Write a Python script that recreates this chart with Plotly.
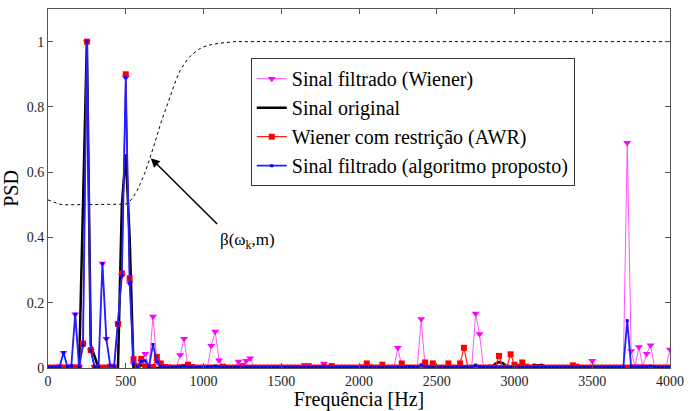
import plotly.graph_objects as go

# Frequency bins (Hz), 25 Hz spacing
freq = list(range(0, 4001, 25))

# Sinal filtrado (Wiener)
wiener = [
    0.002, 0.002, 0.003, 0.005, 0.047, 0.003, 0.006, 0.165, 0.002, 0.07,
    1.0, 0.053, 0.003, 0.003, 0.32, 0.09, 0.008, 0.005, 0.135, 0.283,
    0.89, 0.26, 0.012, 0.003, 0.02, 0.044, 0.005, 0.158, 0.02, 0.005,
    0.003, 0.003, 0.003, 0.003, 0.04, 0.09, 0.005, 0.003, 0.003, 0.003,
    0.003, 0.003, 0.068, 0.112, 0.024, 0.003, 0.003, 0.003, 0.003, 0.02,
    0.01, 0.022, 0.03, 0.003, 0.003, 0.003, 0.003, 0.003, 0.003, 0.003,
    0.003, 0.003, 0.003, 0.003, 0.003, 0.003, 0.01, 0.01, 0.003, 0.003,
    0.003, 0.014, 0.003, 0.003, 0.003, 0.003, 0.003, 0.003, 0.003, 0.003,
    0.003, 0.003, 0.003, 0.003, 0.003, 0.003, 0.003, 0.003, 0.003, 0.003,
    0.062, 0.003, 0.003, 0.003, 0.003, 0.003, 0.15, 0.003, 0.003, 0.003,
    0.003, 0.003, 0.003, 0.003, 0.003, 0.003, 0.003, 0.003, 0.003, 0.003,
    0.167, 0.104, 0.003, 0.003, 0.003, 0.003, 0.003, 0.003, 0.003, 0.003,
    0.003, 0.003, 0.003, 0.003, 0.003, 0.003, 0.003, 0.003, 0.003, 0.003,
    0.003, 0.003, 0.003, 0.003, 0.003, 0.003, 0.003, 0.003, 0.003, 0.003,
    0.022, 0.003, 0.003, 0.003, 0.003, 0.003, 0.003, 0.003, 0.003, 0.69,
    0.052, 0.005, 0.064, 0.005, 0.044, 0.07, 0.003, 0.003, 0.003, 0.003,
    0.057,
]

# Sinal original
original = [
    0, 0, 0, 0, 0, 0, 0, 0, 0, 0.5,
    1.0, 0.07, 0.035, 0, 0, 0, 0, 0, 0, 0.5,
    0.655, 0.4, 0, 0, 0.008, 0.01, 0, 0, 0, 0,
    0, 0, 0, 0, 0, 0, 0, 0, 0, 0,
    0, 0, 0, 0, 0, 0, 0, 0, 0, 0,
    0, 0, 0, 0, 0, 0, 0, 0, 0, 0,
    0, 0, 0, 0, 0, 0, 0, 0, 0, 0,
    0, 0, 0, 0, 0, 0, 0, 0, 0, 0,
    0, 0, 0, 0, 0, 0, 0, 0, 0, 0,
    0, 0, 0, 0, 0, 0.005, 0, 0, 0, 0,
    0, 0, 0, 0, 0, 0, 0, 0, 0, 0,
    0, 0, 0, 0, 0, 0.012, 0.018, 0.015, 0.005, 0,
    0, 0, 0, 0, 0, 0.01, 0.008, 0.01, 0.006, 0,
    0, 0, 0, 0, 0, 0, 0, 0, 0, 0,
    0, 0, 0, 0, 0, 0, 0, 0, 0, 0,
    0, 0, 0, 0, 0, 0, 0, 0, 0, 0,
    0,
]

# Wiener com restrição (AWR)
awr = [
    0.001, 0.001, 0.001, 0.001, 0.001, 0.001, 0.001, 0.001, 0.002, 0.075,
    1.0, 0.055, 0.001, 0.001, 0.001, 0.001, 0.001, 0.001, 0.135, 0.29,
    0.90, 0.275, 0.027, 0.005, 0.028, 0.004, 0.002, 0.003, 0.034, 0.014,
    0.003, 0.002, 0.001, 0.001, 0.002, 0.003, 0.01, 0.003, 0.001, 0.001,
    0.001, 0.001, 0.001, 0.001, 0.001, 0.004, 0.001, 0.001, 0.001, 0.001,
    0.001, 0.001, 0.001, 0.001, 0.001, 0.001, 0.001, 0.001, 0.001, 0.001,
    0.001, 0.001, 0.001, 0.001, 0.001, 0.001, 0.001, 0.001, 0.001, 0.001,
    0.001, 0.002, 0.001, 0.006, 0.001, 0.001, 0.001, 0.001, 0.001, 0.001,
    0.001, 0.002, 0.014, 0.002, 0.001, 0.001, 0.01, 0.001, 0.001, 0.001,
    0.001, 0.014, 0.001, 0.001, 0.001, 0.001, 0.002, 0.017, 0.001, 0.014,
    0.001, 0.001, 0.001, 0.014, 0.001, 0.001, 0.014, 0.062, 0.001, 0.001,
    0.001, 0.001, 0.001, 0.001, 0.002, 0.001, 0.037, 0.001, 0.001, 0.042,
    0.01, 0.004, 0.017, 0.004, 0.001, 0.001, 0.001, 0.001, 0.001, 0.001,
    0.001, 0.001, 0.001, 0.001, 0.001, 0.008, 0.004, 0.001, 0.001, 0.001,
    0.001, 0.001, 0.001, 0.001, 0.001, 0.001, 0.001, 0.001, 0.001, 0.001,
    0.001, 0.001, 0.001, 0.001, 0.001, 0.001, 0.001, 0.001, 0.001, 0.001,
    0.001,
]

# Sinal filtrado (algoritmo proposto)
proposto = [
    0.002, 0.002, 0.003, 0.005, 0.047, 0.003, 0.006, 0.165, 0.002, 0.07,
    1.0, 0.053, 0.003, 0.003, 0.32, 0.09, 0.008, 0.005, 0.135, 0.283,
    0.89, 0.26, 0.012, 0.003, 0.02, 0.022, 0.005, 0.072, 0.02, 0.005,
    0.003, 0.002, 0.002, 0.003, 0.004, 0.006, 0.004, 0.002, 0.002, 0.002,
    0.002, 0.003, 0.004, 0.006, 0.003, 0.002, 0.002, 0.002, 0.002, 0.002,
    0.002, 0.002, 0.002, 0.002, 0.002, 0.002, 0.002, 0.002, 0.002, 0.002,
    0.002, 0.002, 0.002, 0.002, 0.002, 0.002, 0.002, 0.002, 0.002, 0.002,
    0.002, 0.003, 0.002, 0.002, 0.002, 0.002, 0.002, 0.002, 0.002, 0.002,
    0.002, 0.002, 0.002, 0.002, 0.002, 0.002, 0.002, 0.002, 0.002, 0.002,
    0.002, 0.002, 0.003, 0.004, 0.003, 0.002, 0.01, 0.003, 0.002, 0.002,
    0.002, 0.002, 0.002, 0.002, 0.002, 0.002, 0.004, 0.004, 0.002, 0.002,
    0.009, 0.004, 0.002, 0.002, 0.002, 0.002, 0.002, 0.002, 0.002, 0.002,
    0.002, 0.002, 0.002, 0.002, 0.002, 0.002, 0.002, 0.002, 0.002, 0.002,
    0.002, 0.002, 0.002, 0.002, 0.002, 0.002, 0.002, 0.002, 0.002, 0.002,
    0.003, 0.002, 0.002, 0.002, 0.002, 0.002, 0.002, 0.002, 0.002, 0.145,
    0.004, 0.003, 0.003, 0.003, 0.004, 0.006, 0.003, 0.002, 0.002, 0.002,
    0.003,
]

# beta(w_k, m) weighting curve
beta_f = [0, 25, 50, 75, 100, 150, 200, 250, 300, 350, 400, 450, 475, 500,
          525, 550, 575, 600, 625, 650, 675, 700, 725, 750, 775, 800, 825,
          850, 875, 900, 925, 950, 975, 1000, 1050, 1100, 1150, 1200, 1300,
          1500, 2000, 2500, 3000, 3500, 4000]
beta_v = [0.515, 0.51, 0.505, 0.502, 0.5, 0.5, 0.5, 0.5, 0.5, 0.5, 0.5, 0.5,
          0.5, 0.502, 0.51, 0.525, 0.545, 0.57, 0.6, 0.635, 0.67, 0.71, 0.75,
          0.785, 0.82, 0.855, 0.885, 0.912, 0.932, 0.948, 0.96, 0.97, 0.978,
          0.984, 0.991, 0.995, 0.998, 1.0, 1.0, 1.0, 1.0, 1.0, 1.0, 1.0, 1.0]

FONT = "Liberation Serif"

fig = go.Figure()
fig.add_trace(go.Scatter(x=beta_f, y=beta_v, mode="lines", showlegend=False,
                         line=dict(color="black", width=1, dash="dot")))
fig.add_trace(go.Scatter(x=freq, y=wiener, mode="lines+markers", name="Sinal filtrado (Wiener)",
                         line=dict(color="#ff55ff", width=1),
                         marker=dict(symbol="triangle-down", size=7, color="#ff00ff")))
fig.add_trace(go.Scatter(x=freq, y=original, mode="lines", name="Sinal original",
                         line=dict(color="black", width=2.5)))
fig.add_trace(go.Scatter(x=freq, y=awr, mode="lines+markers", name="Wiener com restrição (AWR)",
                         line=dict(color="#ff2020", width=1.2),
                         marker=dict(symbol="square", size=6, color="#ff0000")))
fig.add_trace(go.Scatter(x=freq, y=proposto, mode="lines+markers",
                         name="Sinal filtrado (algoritmo proposto)",
                         line=dict(color="#1f1fff", width=1.8),
                         marker=dict(symbol="square", size=3, color="#0000ff")))

fig.add_annotation(x=661, y=0.643, ax=1107, ay=0.432, xref="x", yref="y",
                   axref="x", ayref="y", text=" ", showarrow=True,
                   arrowhead=2, arrowsize=1.2, arrowwidth=1.5, arrowcolor="black")
fig.add_annotation(x=1285, y=0.39, xref="x", yref="y", showarrow=False,
                   text="β(ω<sub>k</sub>,m)", font=dict(family=FONT, size=17, color="black"))

axis_common = dict(showline=True, linecolor="#555", linewidth=1, mirror="ticks",
                   ticks="inside", ticklen=5, tickcolor="#555", showgrid=False,
                   zeroline=False, tickfont=dict(family=FONT, size=14, color="#222"))

fig.update_xaxes(range=[0, 4000], tickvals=[0, 500, 1000, 1500, 2000, 2500, 3000, 3500, 4000],
                 title=dict(text="Frequência [Hz]", font=dict(family=FONT, size=20, color="black"),
                            standoff=0),
                 **axis_common)
fig.update_yaxes(range=[0, 1.1], tickvals=[0, 0.2, 0.4, 0.6, 0.8, 1],
                 ticktext=["0", "0.2", "0.4", "0.6", "0.8", "1"],
                 title=dict(text="PSD", font=dict(family=FONT, size=20, color="black"), standoff=4),
                 **axis_common)

fig.update_layout(
    width=692, height=411,
    margin=dict(l=48, r=15, t=8, b=37),
    paper_bgcolor="white", plot_bgcolor="white",
    legend=dict(x=0.326, y=0.863, xanchor="left", yanchor="top",
                bgcolor="white", bordercolor="#333", borderwidth=1,
                font=dict(family=FONT, size=20, color="black"),
                tracegroupgap=0, itemwidth=30),
)

fig.write_html("out.html")
